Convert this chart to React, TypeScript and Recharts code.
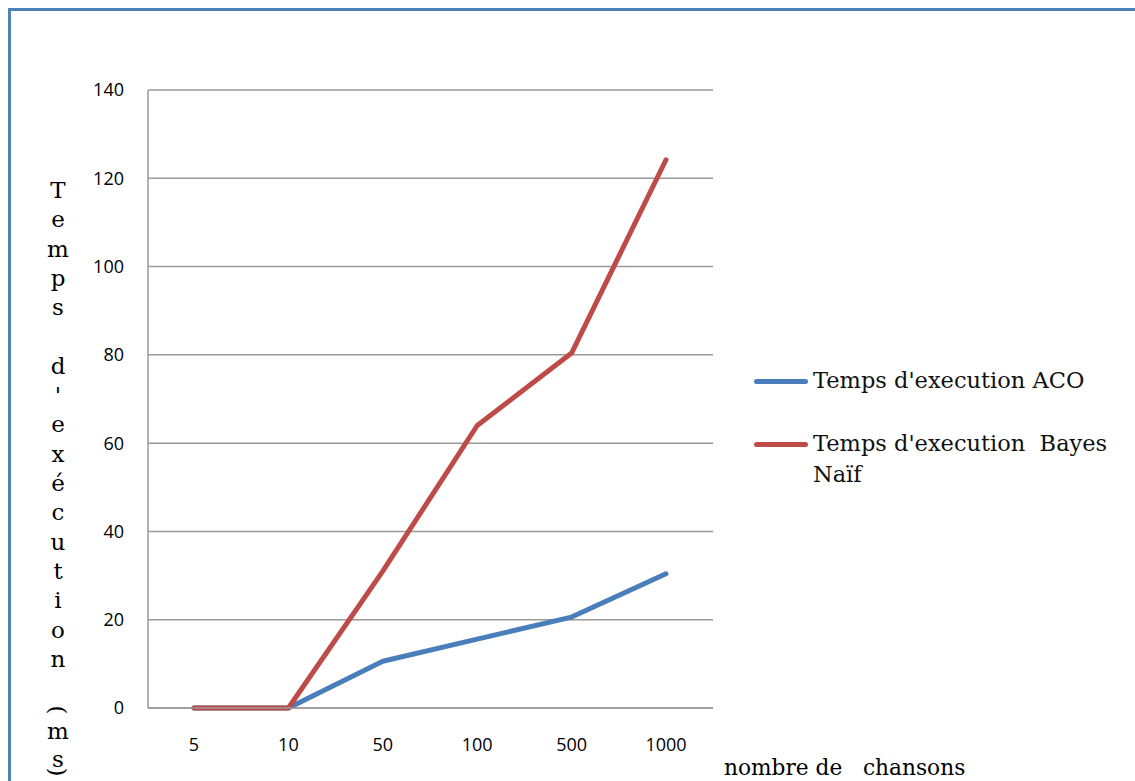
import React from "react";
import { LineChart, Line, XAxis, YAxis, CartesianGrid } from "recharts";

// Nombre de chansons traitées
const categories = ["5", "10", "50", "100", "500", "1000"];
// Temps d'exécution (ms)
const acoTimes = [0, 0, 10.6, 15.6, 20.6, 30.4];
const bayesTimes = [0, 0, 31, 64, 80.4, 124.2];
const yTicks = [0, 20, 40, 60, 80, 100, 120, 140];

const seriesNames = ["Temps d'execution ACO", "Temps d'execution  Bayes Naïf"];
const seriesColors = ["#4a7ebb", "#be4b48"];

const data = categories.map((c, i) => ({
  name: c,
  aco: acoTimes[i],
  bayes: bayesTimes[i],
}));

const W = 1135;
const H = 781;

const tickFont = "'Open Sans', 'Noto Sans', sans-serif";
const serifFont = "'DejaVu Serif', 'Liberation Serif', serif";

const XTick = (props: any) => {
  const { x, y, payload } = props;
  return (
    <text x={x} y={y + 43} textAnchor="middle" fill="#000" fontFamily={tickFont} fontSize={18}>
      {payload.value}
    </text>
  );
};

const YTick = (props: any) => {
  const { x, y, payload } = props;
  return (
    <text x={x - 24} y={y} dy="0.36em" textAnchor="end" fill="#000" fontFamily={tickFont} fontSize={18}>
      {payload.value}
    </text>
  );
};

// Vertical stacked axis title
const titleMain = "Temps d'exécution".split("");

function YTitle() {
  const step = 29.3;
  const base: React.CSSProperties = {
    position: "absolute",
    left: 38,
    width: 40,
    height: 30,
    lineHeight: "30px",
    textAlign: "center",
    fontFamily: serifFont,
    fontSize: 23,
    color: "#000",
  };
  const items: React.ReactNode[] = [];
  titleMain.forEach((ch, i) => {
    if (ch === " ") return;
    items.push(
      <div key={"c" + i} style={{ ...base, top: 190 + i * step - 15 }}>
        {ch}
      </div>
    );
  });
  const unit: [string, number, boolean][] = [
    ["(", 710, true],
    ["m", 731, false],
    ["s", 759, false],
    [")", 772, true],
  ];
  unit.forEach(([ch, cy, rot], i) => {
    items.push(
      <div
        key={"u" + i}
        style={{ ...base, top: cy - 15, transform: rot ? "rotate(90deg)" : undefined }}
      >
        {ch}
      </div>
    );
  });
  return <>{items}</>;
}

function LegendBox() {
  const rows = [
    { name: seriesNames[0], color: seriesColors[0], y: 381 },
    { name: seriesNames[1], color: seriesColors[1], y: 444 },
  ];
  return (
    <>
      {rows.map((r) => (
        <React.Fragment key={r.name}>
          <div
            style={{
              position: "absolute",
              left: 754,
              top: r.y - 2,
              width: 54,
              height: 5,
              borderRadius: 2.5,
              background: r.color,
            }}
          />
          <div
            style={{
              position: "absolute",
              left: 813,
              top: r.y - 16,
              width: 320,
              fontFamily: serifFont,
              fontSize: 22.5,
              lineHeight: "31px",
              color: "#111",
              whiteSpace: "pre-wrap",
            }}
          >
            {r.name}
          </div>
        </React.Fragment>
      ))}
    </>
  );
}

export default function App() {
  return (
    <div style={{ position: "fixed", left: 0, top: 0, width: W, height: H, background: "#fff", overflow: "hidden" }}>
      {/* frame */}
      <div
        style={{
          position: "absolute",
          left: 8,
          top: 8,
          width: W + 20,
          height: H + 20,
          borderLeft: "3px solid #4f81bd",
          borderTop: "3px solid #4f81bd",
          boxSizing: "border-box",
        }}
      />
      <div style={{ position: "absolute", left: 0, top: 0 }}>
        <LineChart width={W} height={H} data={data} margin={{ top: 90, right: 422, bottom: 43, left: 88 }}>
          <CartesianGrid horizontal vertical={false} stroke="#9a9a9a" strokeWidth={1.5} />
          <XAxis
            dataKey="name"
            padding={{ left: 46, right: 47 }}
            height={30}
            tickLine={false}
            tickSize={0}
            tickMargin={0}
            axisLine={{ stroke: "#9a9a9a", strokeWidth: 1.5 }}
            tick={<XTick />}
            interval={0}
          />
          <YAxis
            domain={[0, 140]}
            ticks={yTicks}
            width={60}
            tickLine={false}
            tickSize={0}
            tickMargin={0}
            axisLine={{ stroke: "#9a9a9a", strokeWidth: 1.5 }}
            tick={<YTick />}
            interval={0}
          />
          <Line
            type="linear"
            dataKey="aco"
            stroke={seriesColors[0]}
            strokeWidth={5}
            strokeLinecap="round"
            strokeLinejoin="round"
            dot={false}
            activeDot={false}
            isAnimationActive={false}
          />
          <Line
            type="linear"
            dataKey="bayes"
            stroke={seriesColors[1]}
            strokeWidth={5}
            strokeLinecap="round"
            strokeLinejoin="round"
            dot={false}
            activeDot={false}
            isAnimationActive={false}
          />
        </LineChart>
      </div>
      <YTitle />
      <LegendBox />
      <div
        style={{
          position: "absolute",
          left: 724,
          top: 754,
          fontFamily: serifFont,
          fontSize: 21.7,
          lineHeight: "28px",
          color: "#000",
          whiteSpace: "pre",
        }}
      >
        {"nombre de   chansons"}
      </div>
    </div>
  );
}
